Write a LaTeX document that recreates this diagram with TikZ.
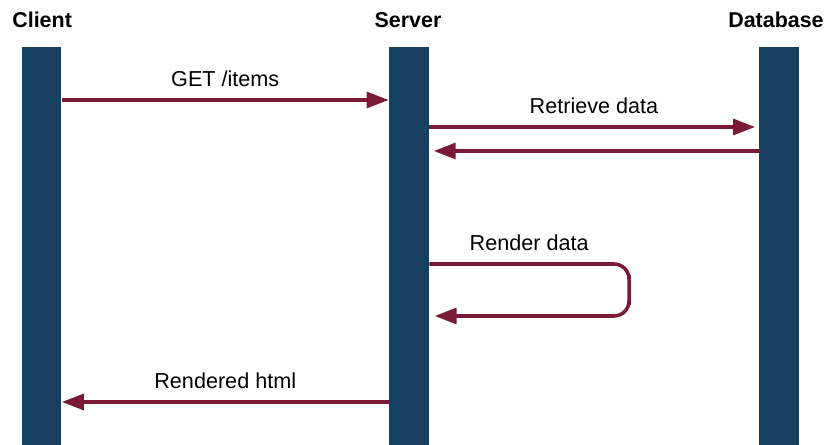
\documentclass[tikz,border=0pt]{standalone}
\usepackage{fontspec}
\setmainfont{Liberation Sans}
\usetikzlibrary{arrows.meta,calc,positioning}
\definecolor{barblue}{HTML}{163F60}
\definecolor{msgred}{HTML}{7A1A36}
\tikzset{
lifebar/.style={
  fill=barblue,
  draw=none,
  inner sep=0pt,
  minimum width=0.8cm,
  minimum height=7.96cm,
  anchor=north,
  }
}
\tikzset{
headlbl/.style={
  font=\fontsize{12.2}{14}\selectfont\bfseries,
  inner sep=0pt,
  }
}
\tikzset{
msg/.style={
  line width=2pt,
  draw=msgred,
  -{Triangle[length=12.5pt,width=9pt]}
  }
}
\tikzset{
msglbl/.style={
  font=\fontsize{12.3}{14}\selectfont,
  inner sep=0pt,
  above=0.23cm,
  midway,
  }
}

\begin{document}
\begin{tikzpicture}[x=0.02cm,y=-0.02cm]
    \useasboundingbox (0,0) rectangle (828,445);

    % lifelines
    \node[lifebar] (client) at (41.5,47) {};
    \node[lifebar] (server) at (409,47) {};
    \node[lifebar] (db) at (779,47) {};

    % headings
    \node[headlbl, anchor=west] (clienthd) at (12,20) {Client};
    \node[headlbl] (serverhd) at (408,20) {Server};
    \node[headlbl, anchor=east] (dbhd) at (824,20) {Database};

    % message levels
    \coordinate (get) at (0,100);
    \coordinate (ret) at (0,127);
    \coordinate (back) at (0,151);
    \coordinate (rend) at (0,264);
    \coordinate (loopend) at (629,290);
    \coordinate (rendback) at (0,316);
    \coordinate (html) at (0,402);

    % client to server
    \draw[msg] (client.east |- get) -- (server.west |- get) node[msglbl] {GET /items};

    % server to database
    \draw[msg, shorten >=2pt] (server.east |- ret) -- (db.west |- ret) node[msglbl] {Retrieve data};
    \draw[msg, shorten >=2.5pt] (db.west |- back) -- (server.east |- back);

    % render loop
    \draw[msg, rounded corners=0.3cm, shorten >=3pt] (server.east |- rend) -| node[msglbl, pos=0.25] {Render data} (loopend) |- (server.east |- rendback);

    % server to client
    \draw[msg] (server.west |- html) -- (client.east |- html) node[msglbl] {Rendered html};
\end{tikzpicture}
\end{document}
